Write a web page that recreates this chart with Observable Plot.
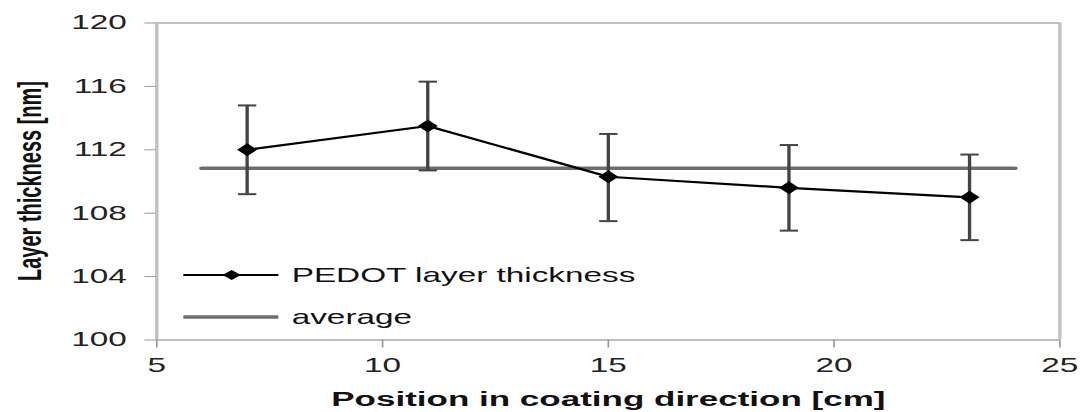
<!DOCTYPE html>
<html><head><meta charset="utf-8">
<script src="https://cdn.jsdelivr.net/npm/d3@7"></script>
<script src="https://cdn.jsdelivr.net/npm/@observablehq/plot@0.6"></script>
<style>
html,body{margin:0;padding:0;background:#fff;overflow:hidden;}
#chart{width:1080px;height:412px;overflow:hidden;}
#chart svg{display:block;transform:scaleX(1.6667);transform-origin:0 0;}
</style></head><body><div id="chart"></div>
<script>
// ---- data ----
const positions = [7, 11, 15, 19, 23];
const thickness = [112.0, 113.5, 110.3, 109.6, 109.0];
const errLow = [109.2, 110.7, 107.5, 106.9, 106.3];
const errHigh = [114.8, 116.3, 113.0, 112.3, 111.7];
const averageValue = 110.84;
const averageRange = [6, 24];
const xTicks = [5, 10, 15, 20, 25];
const yTicks = [100, 104, 108, 112, 116, 120];
const seriesNames = ["PEDOT layer thickness", "average"];
const xLabel = "Position in coating direction [cm]";
const yLabel = "Layer thickness [nm]";

const rows = positions.map((x, i) => ({x, y: thickness[i], lo: errLow[i], hi: errHigh[i]}));
const avgRows = averageRange.map(x => ({x, y: averageValue}));

const W = 648; // drawn narrow, then stretched horizontally like the reference
const diamondSym = {draw(ctx){ctx.moveTo(0,-6.5);ctx.lineTo(6,0);ctx.lineTo(0,6.5);ctx.lineTo(-6,0);ctx.closePath();}};
const capSym = {draw(ctx){ctx.moveTo(-5.5,0);ctx.lineTo(5.5,0);}};

const plot = Plot.plot({
  width: W, height: 412,
  marginLeft: 93.6, marginRight: 12.6, marginTop: 22.5, marginBottom: 72.5,
  style: {fontFamily: "'Liberation Sans', Arial, sans-serif", background: "#fff", color: "#222"},
  x: {domain: [5, 25]},
  y: {domain: [100, 120]},
  marks: [
    Plot.ruleY([100, 120], {stroke: "#aaa", strokeWidth: 1.3}),
    Plot.ruleX([5, 25], {stroke: "#c0c0c0", strokeWidth: 2}),
    Plot.axisX({ticks: xTicks, tickSize: 8, tickPadding: 10, fontSize: 20, stroke: "#999", fill: "#222", label: null}),
    Plot.axisY({ticks: yTicks, tickSize: 7, tickPadding: 11, fontSize: 20, stroke: "#999", fill: "#222", label: null}),
    Plot.text([xLabel], {frameAnchor: "bottom", dy: 66, fontWeight: "bold", fontSize: 21, fill: "#111"}),
    Plot.line(avgRows, {x: "x", y: "y", stroke: "#6e6e6e", strokeWidth: 3.5}),
    Plot.ruleX(rows, {x: "x", y1: "lo", y2: "hi", stroke: "#444", strokeWidth: 2}),
    Plot.dot(rows, {x: "x", y: "lo", symbol: capSym, stroke: "#444", strokeWidth: 2, fill: "none"}),
    Plot.dot(rows, {x: "x", y: "hi", symbol: capSym, stroke: "#444", strokeWidth: 2, fill: "none"}),
    Plot.line(rows, {x: "x", y: "y", stroke: "#000", strokeWidth: 2.2}),
    Plot.dot(rows, {x: "x", y: "y", symbol: diamondSym, fill: "#000", stroke: "none"})
  ]
});
document.getElementById("chart").appendChild(plot);

const svg = d3.select(plot);
// y-axis title
svg.append("text")
  .attr("transform", "translate(17.4,181) rotate(-90)")
  .attr("text-anchor", "middle").attr("dy", "0.35em")
  .attr("font-family", "'Liberation Sans', Arial, sans-serif")
  .attr("font-size", 20).attr("font-weight", "bold").attr("fill", "#111")
  .text(yLabel);

// legend inside the frame (lower left)
const lg = svg.append("g").attr("font-family", "'Liberation Sans', Arial, sans-serif")
  .attr("font-size", 20).attr("fill", "#111").attr("text-anchor", "start");
lg.append("line").attr("x1", 110).attr("x2", 167).attr("y1", 275).attr("y2", 275).attr("stroke", "#000").attr("stroke-width", 2.2);
lg.append("path").attr("transform", "translate(139,275)").attr("d", "M0,-5L5.5,0L0,5L-5.5,0Z").attr("fill", "#000");
lg.append("text").attr("x", 175).attr("y", 275).attr("dy", "0.35em").text(seriesNames[0]);
lg.append("line").attr("x1", 110).attr("x2", 167).attr("y1", 317).attr("y2", 317).attr("stroke", "#6e6e6e").attr("stroke-width", 3.5);
lg.append("text").attr("x", 175).attr("y", 317).attr("dy", "0.35em").text(seriesNames[1]);
</script></body></html>
